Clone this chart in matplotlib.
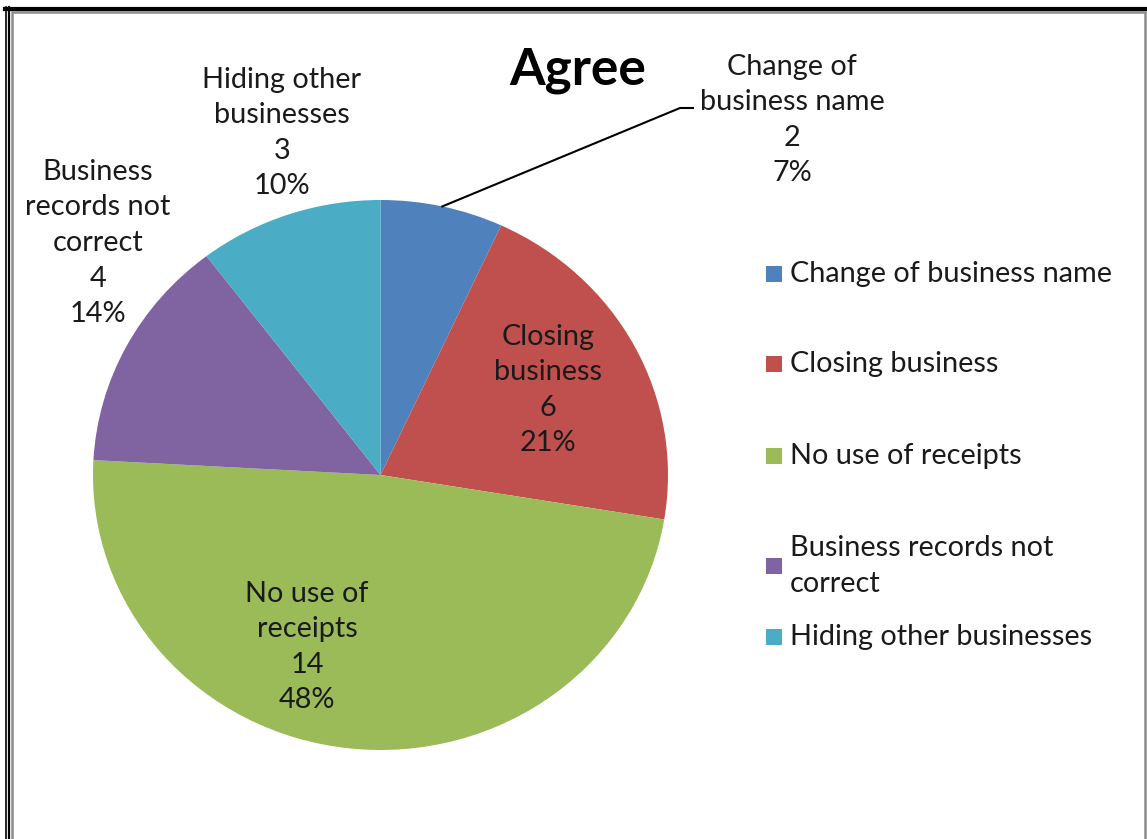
import numpy as np
import matplotlib.pyplot as plt
from matplotlib.patches import Rectangle
from matplotlib.lines import Line2D

# answers counted as "Agree"
categories = ['Change of business name', 'Closing business', 'No use of receipts',
              'Business records not correct', 'Hiding other businesses']
counts = [2, 6, 14, 4, 3]
slice_labels = ['Change of\nbusiness name', 'Closing\nbusiness', 'No use of\nreceipts',
                'Business\nrecords not\ncorrect', 'Hiding other\nbusinesses']
legend_labels = ['Change of business name', 'Closing business', 'No use of receipts',
                 'Business records not\ncorrect', 'Hiding other businesses']
colors = ['#4F81BD', '#C0504D', '#9BBB59', '#8064A2', '#4BACC6']

W, H = 1147, 839
plt.rcParams['font.family'] = ['Lato', 'DejaVu Sans']
fig = plt.figure(figsize=(W / 100, H / 100), dpi=100)

def fx(px):
    return px / W

def fy(py):
    return 1 - py / H

# pie area in pixels (slightly wider than tall)
cx, cy, rx, ry = 380.5, 475.0, 287.5, 275.0
ax = fig.add_axes([fx(cx - rx), fy(cy + ry), 2 * rx / W, 2 * ry / H])
ax.pie(counts, colors=colors, startangle=90, counterclock=False, radius=1,
       wedgeprops=dict(linewidth=0))
ax.set_xlim(-1, 1)
ax.set_ylim(-1, 1)
ax.set_aspect('auto')
ax.axis('off')

def to_data(px, py):
    return (px - cx) / rx, (cy - py) / ry

FS = 20.8
LS = 1.46

total = sum(counts)
label_pos = [(792, 120), (548, 390), (307, 647), (98, 243), (282, 133)]
for name, n, (px, py) in zip(slice_labels, counts, label_pos):
    pct = int(round(100 * n / total))
    x, y = to_data(px, py)
    ax.text(x, y, f'{name}\n{n}\n{pct}%', ha='center', va='center', fontsize=FS,
            linespacing=LS, color='#1a1a1a', clip_on=False)

# leader line for the small first slice
mid = np.deg2rad(90 - 360 * counts[0] / total / 2)
x0, y0 = np.cos(mid), np.sin(mid)
x1, y1 = to_data(680, 108)
x2, y2 = to_data(693, 108)
ax.plot([x0, x1, x2], [y0, y1, y2], color='black', lw=1.5, clip_on=False)

fig.text(fx(578), fy(70), 'Agree', ha='center', va='center', fontsize=37,
         fontweight='bold', color='black')

# legend
legend_y = [274, 364, 456, 566, 637]
for lab, c, py in zip(legend_labels, colors, legend_y):
    fig.patches.append(Rectangle((fx(766), fy(py + 8)), 16 / W, 16 / H,
                                 transform=fig.transFigure, facecolor=c, edgecolor='none'))
    fig.text(fx(790), fy(py), lab, ha='left', va='center', fontsize=FS,
             linespacing=LS, color='#1a1a1a')

# frame
fig.lines.append(Line2D([fx(5), fx(W)], [fy(9), fy(9)], transform=fig.transFigure,
                        color='black', lw=3))
fig.lines.append(Line2D([fx(5.5), fx(5.5)], [fy(7), fy(H)], transform=fig.transFigure,
                        color='black', lw=1.2))
fig.lines.append(Line2D([fx(8.5), fx(8.5)], [fy(7), fy(H)], transform=fig.transFigure,
                        color='black', lw=1.6))
fig.patches.append(Rectangle((fx(11.5), fy(H + 20)), (1145 - 11.5) / W, (H + 20 - 12) / H,
                             transform=fig.transFigure, facecolor='none',
                             edgecolor='#8c8c8c', lw=1.8))

fig.savefig('out.png', dpi=100)
